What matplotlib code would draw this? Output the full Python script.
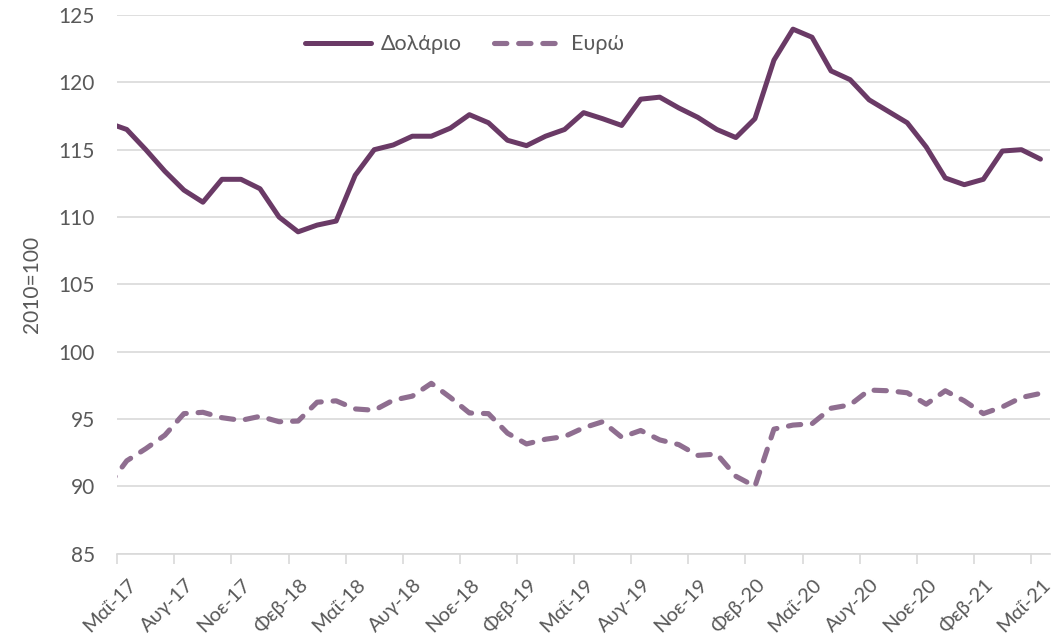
import numpy as np
import matplotlib
matplotlib.use("Agg")
import matplotlib.pyplot as plt
import matplotlib.transforms as mtransforms

plt.rcParams['font.family'] = ['Lato', 'Noto Sans', 'DejaVu Sans']

# monthly, Apr-17 .. May-21 (Apr-17 sits just outside the left edge of the axis)
months = ['Απρ-17', 'Μαΐ-17', 'Ιουν-17', 'Ιουλ-17', 'Αυγ-17', 'Σεπ-17', 'Οκτ-17', 'Νοε-17', 'Δεκ-17',
          'Ιαν-18', 'Φεβ-18', 'Μαρ-18', 'Απρ-18', 'Μαΐ-18', 'Ιουν-18', 'Ιουλ-18', 'Αυγ-18', 'Σεπ-18',
          'Οκτ-18', 'Νοε-18', 'Δεκ-18', 'Ιαν-19', 'Φεβ-19', 'Μαρ-19', 'Απρ-19', 'Μαΐ-19', 'Ιουν-19',
          'Ιουλ-19', 'Αυγ-19', 'Σεπ-19', 'Οκτ-19', 'Νοε-19', 'Δεκ-19', 'Ιαν-20', 'Φεβ-20', 'Μαρ-20',
          'Απρ-20', 'Μαΐ-20', 'Ιουν-20', 'Ιουλ-20', 'Αυγ-20', 'Σεπ-20', 'Οκτ-20', 'Νοε-20', 'Δεκ-20',
          'Ιαν-21', 'Φεβ-21', 'Μαρ-21', 'Απρ-21', 'Μαΐ-21']

dollar = [117.0,
          116.5, 115.0, 113.4, 112.0, 111.1, 112.8, 112.8, 112.1, 110.0, 108.9,
          109.4, 109.7, 113.1, 115.0, 115.35, 116.0, 116.0, 116.6, 117.6, 117.0,
          115.7, 115.3, 116.0, 116.5, 117.75, 117.3, 116.8, 118.75, 118.9, 118.1,
          117.4, 116.5, 115.9, 117.3, 121.65, 123.95, 123.35, 120.85, 120.2, 118.7,
          117.85, 117.0, 115.2, 112.9, 112.4, 112.8, 114.9, 115.0, 114.3]

euro = [90.0,
        91.9, 92.8, 93.8, 95.4, 95.5, 95.1, 94.9, 95.2, 94.8, 94.85,
        96.25, 96.35, 95.75, 95.65, 96.4, 96.7, 97.65, 96.6, 95.45, 95.4,
        93.95, 93.15, 93.5, 93.7, 94.35, 94.8, 93.65, 94.15, 93.45, 93.1,
        92.3, 92.4, 90.75, 90.0, 94.25, 94.55, 94.65, 95.8, 96.05, 97.15,
        97.1, 96.95, 96.1, 97.1, 96.35, 95.4, 95.9, 96.6, 96.9]

x = np.arange(len(months)) - 1   # Μαΐ-17 at 0

fig = plt.figure(figsize=(10.64, 6.36), dpi=100)
ax = fig.add_axes([0.1102, 0.1294, 0.8766, 0.847])

c_dol = '#6A3A66'
c_eur = '#8F6E90'
ax.plot(x, dollar, color=c_dol, lw=3.6, solid_capstyle='round', solid_joinstyle='round',
        label='Δολάριο', zorder=3)
ax.plot(x, euro, color=c_eur, lw=3.7, linestyle=(0, (2.4, 2.3)), dash_capstyle='round',
        label='Ευρώ', zorder=3)

ax.set_xlim(-0.5, 48.5)
ax.set_ylim(85, 125)
ax.set_yticks(np.arange(85, 126, 5))
ax.grid(axis='y', color='#D9D9D9', lw=1.2)
ax.set_axisbelow(True)

for s in ['top', 'right', 'left']:
    ax.spines[s].set_visible(False)
ax.spines['bottom'].set_color('#D9D9D9')
ax.spines['bottom'].set_linewidth(1.2)

lab_pos = x[1::3]
ax.set_xticks(lab_pos)
ax.set_xticklabels(months[1::3], rotation=45, ha='right', va='center', rotation_mode='anchor')
ax.set_xticks(np.arange(-0.5, 48, 3), minor=True)
ax.tick_params(axis='x', which='major', length=0, pad=20, labelsize=14.5, labelcolor='#595959')
ax.tick_params(axis='x', which='minor', length=7, width=1.2, color='#D9D9D9')
ax.tick_params(axis='y', length=0, pad=16, labelsize=15, labelcolor='#595959')
offset = mtransforms.ScaledTranslation(5 / 72, 0, fig.dpi_scale_trans)
for t in ax.get_xticklabels():
    t.set_transform(t.get_transform() + offset)

ax.set_ylabel('2010=100', fontsize=15, color='#595959', labelpad=12)

ax.legend(loc='center', bbox_to_anchor=(0.372, 0.946), ncol=2, frameon=False,
          fontsize=15.5, handlelength=3.1, handletextpad=0.45, columnspacing=1.5,
          labelcolor='#595959')

fig.savefig('out.png', dpi=100)
